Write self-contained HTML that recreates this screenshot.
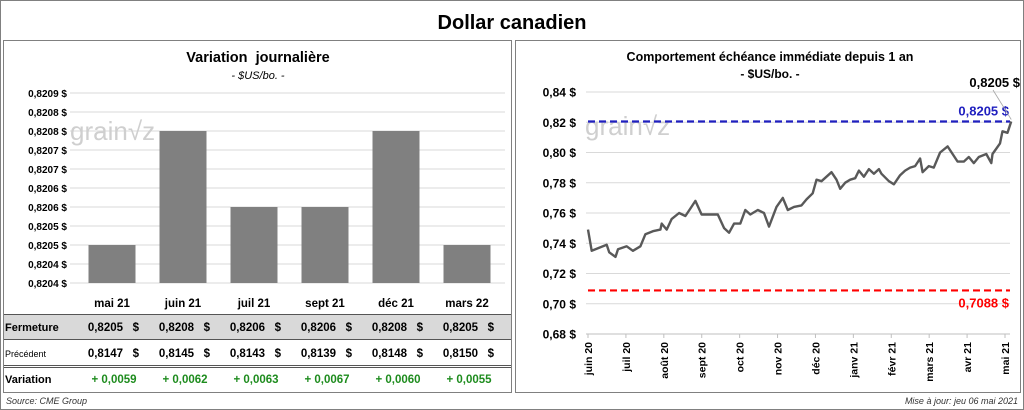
<!DOCTYPE html>
<html><head><meta charset="utf-8">
<style>
body{margin:0;width:1024px;height:410px;background:#fff;font-family:"Liberation Sans",sans-serif;overflow:hidden;position:relative}
svg{position:absolute;left:0;top:0}
text{font-family:"Liberation Sans",sans-serif;white-space:pre}
</style></head><body>
<svg width="1024" height="410">
<rect x="0.5" y="0.5" width="1023" height="409" fill="#fff" stroke="#808080"/>
<text x="512" y="29" font-size="20" font-weight="bold" text-anchor="middle">Dollar canadien</text>
<rect x="3.5" y="40.5" width="508" height="352" fill="none" stroke="#808080"/>
<rect x="515.5" y="40.5" width="505" height="352" fill="none" stroke="#808080"/>
<text x="258" y="62" font-size="14.5" font-weight="bold" text-anchor="middle">Variation  journalière</text>
<text x="258" y="79" font-size="11" font-style="italic" text-anchor="middle">- $US/bo. -</text>
<text x="770" y="61" font-size="12.5" font-weight="bold" text-anchor="middle">Comportement échéance immédiate depuis 1 an</text>
<text x="770" y="78" font-size="12" font-weight="bold" text-anchor="middle">- $US/bo. -</text>
<g id="left"></g>
<g id="table"></g>
<g id="right"></g>
<text x="6" y="404" font-size="9" font-style="italic" fill="#333">Source: CME Group</text>
<text x="1018" y="404" font-size="9" font-style="italic" fill="#333" text-anchor="end">Mise à jour: jeu 06 mai 2021</text>
</svg>
<script>
const NS="http://www.w3.org/2000/svg";
function mk(p,t,a,txt){const e=document.createElementNS(NS,t);for(const k in a)e.setAttribute(k,a[k]);if(txt!==undefined)e.textContent=txt;p.appendChild(e);return e;}

// ---- Bar chart data ----
const contracts=["mai 21","juin 21","juil 21","sept 21","déc 21","mars 22"];
const closes=[0.8205,0.8208,0.8206,0.8206,0.8208,0.8205];
const previous=[0.8147,0.8145,0.8143,0.8139,0.8148,0.8150];
const variations=[0.0059,0.0062,0.0063,0.0067,0.0060,0.0055];
const barTicks=[0.8204,0.82045,0.8205,0.82055,0.8206,0.82065,0.8207,0.82075,0.8208,0.82085,0.8209];

const L=document.getElementById('left');
const yMinL=0.8204,yMaxL=0.8209,yTopL=93,yBotL=283;
const yL=v=>yBotL-(v-yMinL)/(yMaxL-yMinL)*(yBotL-yTopL);
const xL=i=>112+i*71;
const fmt=(v,d)=>v.toFixed(d).replace('.',',');
const fmtFloor=v=>(Math.floor(v*10000+1e-6)/10000).toFixed(4).replace('.',',');
barTicks.forEach(t=>{
  const g=mk(L,'line',{x1:70,x2:505,y1:yL(t),y2:yL(t),stroke:'#d9d9d9'});
  
  
  const lb=mk(L,'text',{x:67,y:yL(t)+4,'font-size':10,'font-weight':'bold','text-anchor':'end'},fmtFloor(t)+' $');
  
  
});
const wm=mk(L,'text',{x:70,y:140,'font-size':26,fill:'#cfcfcf'},'grain\u221Az');


closes.forEach((v,i)=>{
  const r=mk(L,'rect',{x:xL(i)-23.5,y:yL(v),width:47,height:yBotL-yL(v),fill:'#808080'});
  
  
});

// ---- table ----
const T=document.getElementById('table');
const bg=mk(T,'rect',{x:4,y:315,width:507,height:24,fill:'#d9d9d9'});


[[4,314.5],[4,339.5],[4,365.5],[4,367.5]].forEach(([x,y])=>{
  const l=mk(T,'line',{x1:x,x2:511,y1:y,y2:y,stroke:'#555','stroke-width':1});
  
  
});
const rl=[["Fermeture",331,11,'bold'],["Précédent",357,9,'normal'],["Variation",383,11,'bold']];
rl.forEach(([t,y,s,w])=>{
  const e=mk(T,'text',{x:5,y:y,'font-size':s,'font-weight':w},t);
  
  
});
contracts.forEach((c,i)=>{
  const x=xL(i);
  const h=mk(T,'text',{x:x,y:307,'font-size':11.5,'font-weight':'bold','text-anchor':'middle'},c);
  
  
  const a=mk(T,'text',{x:x+27,y:331,'font-size':11.5,'font-weight':'bold','text-anchor':'end'},fmt(closes[i],4)+'   $');
  
  
  const b=mk(T,'text',{x:x+27,y:357,'font-size':11.5,'font-weight':'bold','text-anchor':'end'},fmt(previous[i],4)+'   $');
  
  
  const d=mk(T,'text',{x:x+2,y:383,'font-size':11.5,'font-weight':'bold',fill:'#1e8c1e','text-anchor':'middle'},'+ '+fmt(variations[i],4));
  
  
});

// ---- line chart data ----
const days=[0,3,9,15,17,22,24,31,36,42,46,52,58,59,63,67,73,78,82,86,91,96,104,109,113,117,122,126,130,136,141,145,151,156,160,165,171,175,180,183,187,191,195,199,202,206,210,214,217,221,225,229,233,235,241,245,250,254,258,262,266,268,273,277,282,288,292,296,301,305,309,313,319,323,324,330,332,336,339];
const prices=[0.749,0.735,0.737,0.739,0.734,0.731,0.736,0.738,0.735,0.738,0.746,0.748,0.749,0.753,0.749,0.756,0.760,0.758,0.763,0.768,0.759,0.759,0.759,0.750,0.747,0.753,0.753,0.762,0.759,0.762,0.760,0.751,0.764,0.770,0.762,0.764,0.765,0.769,0.773,0.782,0.781,0.784,0.787,0.782,0.776,0.780,0.782,0.783,0.788,0.784,0.789,0.786,0.789,0.786,0.781,0.779,0.785,0.788,0.790,0.791,0.796,0.787,0.791,0.790,0.800,0.804,0.799,0.794,0.794,0.797,0.793,0.797,0.799,0.793,0.799,0.806,0.814,0.813,0.8205];
const months=["juin 20","juil 20","août 20","sept 20","oct 20","nov 20","déc 20","janv 21","févr 21","mars 21","avr 21","mai 21"];
const lineTicks=[0.68,0.70,0.72,0.74,0.76,0.78,0.80,0.82,0.84];
const highLevel=0.8205, lowLevel=0.7088, lastValue=0.8205;

const R=document.getElementById('right');
const yMinR=0.68,yMaxR=0.84,yTopR=92,yBotR=334;
const yR=v=>yBotR-(v-yMinR)/(yMaxR-yMinR)*(yBotR-yTopR);
const xR=d=>588+d*(1005-588)/334;
lineTicks.forEach(t=>{
  const g=mk(R,'line',{x1:586,x2:1010,y1:yR(t),y2:yR(t),stroke:t===0.68?'#bfbfbf':'#d9d9d9'});
  
  
  const lb=mk(R,'text',{x:576,y:yR(t)+4.5,'font-size':12,'font-weight':'bold','text-anchor':'end'},fmt(t,2)+' $');
  
  
});
months.forEach((m,i)=>{
  const x=588+i*(1005-588)/11;
  const tk=mk(R,'line',{x1:x,x2:x,y1:334,y2:338,stroke:'#bfbfbf'});
  
  
  const lb=mk(R,'text',{x:0,y:0,'font-size':10.5,'font-weight':'bold','text-anchor':'end',transform:`translate(${x+4},342) rotate(-90)`},m);
  
  
});
const wm2=mk(R,'text',{x:585,y:135,'font-size':26,fill:'#cfcfcf'},'grain\u221Az');


const hl=mk(R,'line',{x1:588,x2:1010,y1:yR(highLevel),y2:yR(highLevel),stroke:'#1f1fbf','stroke-width':2.2,'stroke-dasharray':'7,4'});


const ll=mk(R,'line',{x1:588,x2:1010,y1:yR(lowLevel),y2:yR(lowLevel),stroke:'#ff0000','stroke-width':2.2,'stroke-dasharray':'7,4'});


const pts=days.map((d,i)=>xR(d).toFixed(1)+','+yR(prices[i]).toFixed(1)).join(' ');
const pl=mk(R,'polyline',{points:pts,fill:'none',stroke:'#595959','stroke-width':2.4,'stroke-linejoin':'round'});


const hlt=mk(R,'text',{x:1009,y:yR(highLevel)-6,'font-size':13,'font-weight':'bold',fill:'#1f1fbf','text-anchor':'end'},fmt(highLevel,4)+' $');


const llt=mk(R,'text',{x:1009,y:yR(lowLevel)+17,'font-size':13,'font-weight':'bold',fill:'#ff0000','text-anchor':'end'},fmt(lowLevel,4)+' $');


const ld=mk(R,'line',{x1:xR(days[days.length-1]),y1:yR(lastValue)-2,x2:993,y2:90,stroke:'#a6a6a6','stroke-width':0.8});


const lv=mk(R,'text',{x:1020,y:87,'font-size':13,'font-weight':'bold','text-anchor':'end'},fmt(lastValue,4)+' $');


</script>
</body></html>
